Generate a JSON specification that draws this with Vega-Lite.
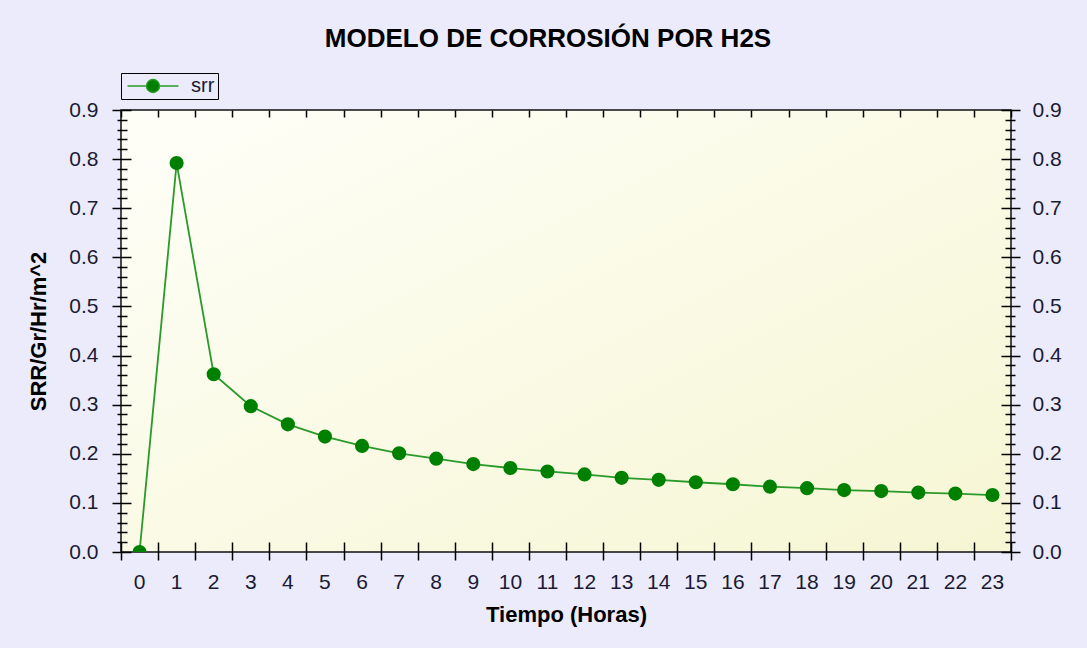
{
  "$schema": "https://vega.github.io/schema/vega-lite/v6.json",
  "width": 890,
  "height": 442,
  "autosize": {"type": "none"},
  "padding": {"left": 121, "top": 110, "right": 76, "bottom": 96},
  "background": "#ebebfb",
  "title": {
    "text": "MODELO DE CORROSIÓN POR H2S",
    "font": "Liberation Sans",
    "fontSize": 26,
    "fontWeight": "bold",
    "color": "#000000",
    "anchor": "middle",
    "frame": "group",
    "baseline": "alphabetic",
    "offset": 0,
    "dx": -18
  },
  "data": {
    "values": [
      {"t": 0, "srr": 0},
      {"t": 1, "srr": 0.792},
      {"t": 2, "srr": 0.362},
      {"t": 3, "srr": 0.297},
      {"t": 4, "srr": 0.26},
      {"t": 5, "srr": 0.235},
      {"t": 6, "srr": 0.216},
      {"t": 7, "srr": 0.201},
      {"t": 8, "srr": 0.19},
      {"t": 9, "srr": 0.179},
      {"t": 10, "srr": 0.171},
      {"t": 11, "srr": 0.164},
      {"t": 12, "srr": 0.158},
      {"t": 13, "srr": 0.151},
      {"t": 14, "srr": 0.147},
      {"t": 15, "srr": 0.142},
      {"t": 16, "srr": 0.138},
      {"t": 17, "srr": 0.133},
      {"t": 18, "srr": 0.13},
      {"t": 19, "srr": 0.126},
      {"t": 20, "srr": 0.124},
      {"t": 21, "srr": 0.121},
      {"t": 22, "srr": 0.119},
      {"t": 23, "srr": 0.116}
    ]
  },
  "config": {
    "view": {
      "fill": {"gradient": "linear", "x1": 0, "y1": 0, "x2": 1, "y2": 1,
        "stops": [{"offset": 0, "color": "#fefef8"}, {"offset": 1, "color": "#f6f6d4"}]},
      "stroke": "#111111",
      "strokeWidth": 1.5
    },
    "axis": {
      "labelFont": "Liberation Sans",
      "labelFontSize": 21,
      "labelColor": "#1a1a33",
      "titleFont": "Liberation Sans",
      "titleFontSize": 22,
      "titleFontWeight": "bold",
      "titleColor": "#000000",
      "grid": false,
      "tickColor": "#000000",
      "tickWidth": 1.5,
      "domainColor": "#000000"
    }
  },
  "resolve": {"axis": {"x": "independent", "y": "independent"}},
  "layer": [
    {
      "mark": {"type": "line", "color": "#2a9a2a", "strokeWidth": 1.8},
      "encoding": {
        "x": {"field": "t", "type": "ordinal", "sort": "ascending",
          "scale": {"type": "band", "paddingInner": 0, "paddingOuter": 0},
          "axis": {"orient": "bottom", "title": "Tiempo (Horas)", "ticks": false, "tickSize": 0, "domain": false, "labelAngle": 0, "labelPadding": 19, "titlePadding": 12}},
        "y": {"field": "srr", "type": "quantitative",
          "scale": {"domain": [0, 0.9], "nice": false},
          "axis": {"orient": "left", "title": "SRR/Gr/Hr/m^2", "ticks": false, "tickSize": 0, "domain": false,
            "values": [0, 0.1, 0.2, 0.3, 0.4, 0.5, 0.6, 0.7, 0.8, 0.9], "format": ".1f", "labelPadding": 23, "titlePadding": 18}}
      }
    },
    {
      "mark": {"type": "point", "filled": true, "size": 200, "opacity": 1, "clip": true},
      "encoding": {
        "x": {"field": "t", "type": "ordinal", "sort": "ascending",
          "scale": {"type": "band", "paddingInner": 0, "paddingOuter": 0},
          "axis": {"orient": "bottom", "title": null, "labels": false, "domain": false, "tickBand": "extent", "tickSize": 18, "offset": -10}},
        "y": {"field": "srr", "type": "quantitative",
          "scale": {"domain": [0, 0.9], "nice": false},
          "axis": {"orient": "left", "title": null, "labels": false, "domain": false,
            "values": [0, 0.1, 0.2, 0.3, 0.4, 0.5, 0.6, 0.7, 0.8, 0.9], "tickSize": 19, "offset": -10}},
        "color": {"datum": "srr", "type": "nominal",
          "scale": {"domain": ["srr"], "range": ["#008000"]},
          "legend": {
            "orient": "none", "legendX": 0, "legendY": -37, "title": null,
            "strokeColor": "#000000", "padding": 3,
            "symbolType": "M-2.83,0H-0.72M0.72,0H2.83M-0.72,0A0.72,0.72 0 1,0 0.72,0A0.72,0.72 0 1,0 -0.72,0",
            "symbolSize": 324, "symbolOffset": 19, "labelOffset": 28,
            "symbolStrokeColor": "#2a9a2a", "symbolStrokeWidth": 1.5,
            "labelFont": "Liberation Sans", "labelFontSize": 20, "labelColor": "#1a1a33",
            "encode": {"symbols": {"update": {
              "shape": {"value": "M-2.83,0H-0.72M0.72,0H2.83M-0.72,0A0.72,0.72 0 1,0 0.72,0A0.72,0.72 0 1,0 -0.72,0"},
              "size": {"value": 324},
              "fill": {"value": "#008000"}, "fillOpacity": {"value": 1},
              "stroke": {"value": "#2a9a2a"}, "strokeOpacity": {"value": 1}, "strokeWidth": {"value": 1.5}, "opacity": {"value": 1}}}}
          }}
      }
    },
    {
      "mark": {"type": "point", "opacity": 0},
      "encoding": {
        "x": {"field": "t", "type": "ordinal", "sort": "ascending",
          "scale": {"type": "band", "paddingInner": 0, "paddingOuter": 0},
          "axis": {"orient": "top", "title": null, "labels": false, "domain": false, "tickBand": "extent", "tickSize": -7}},
        "y": {"field": "srr", "type": "quantitative",
          "scale": {"domain": [0, 0.9], "nice": false},
          "axis": {"orient": "left", "title": null, "labels": false, "domain": false,
            "values": [0.02, 0.04, 0.06, 0.08, 0.12, 0.14, 0.16, 0.18, 0.22, 0.24, 0.26, 0.28, 0.32, 0.34, 0.36, 0.38, 0.42, 0.44, 0.46, 0.48, 0.52, 0.54, 0.56, 0.58, 0.62, 0.64, 0.66, 0.68, 0.72, 0.74, 0.76, 0.78, 0.82, 0.84, 0.86, 0.88],
            "tickSize": 10, "offset": -6}}
      }
    },
    {
      "mark": {"type": "point", "opacity": 0},
      "encoding": {
        "x": {"field": "t", "type": "ordinal", "sort": "ascending", "axis": null,
          "scale": {"type": "band", "paddingInner": 0, "paddingOuter": 0}},
        "y": {"field": "srr", "type": "quantitative",
          "scale": {"domain": [0, 0.9], "nice": false},
          "axis": {"orient": "right", "title": null, "ticks": false, "tickSize": 0, "domain": false,
            "values": [0, 0.1, 0.2, 0.3, 0.4, 0.5, 0.6, 0.7, 0.8, 0.9], "format": ".1f", "labelPadding": 21}}
      }
    },
    {
      "mark": {"type": "point", "opacity": 0},
      "encoding": {
        "x": {"field": "t", "type": "ordinal", "sort": "ascending", "axis": null,
          "scale": {"type": "band", "paddingInner": 0, "paddingOuter": 0}},
        "y": {"field": "srr", "type": "quantitative",
          "scale": {"domain": [0, 0.9], "nice": false},
          "axis": {"orient": "right", "title": null, "labels": false, "domain": false,
            "values": [0, 0.1, 0.2, 0.3, 0.4, 0.5, 0.6, 0.7, 0.8, 0.9], "tickSize": 19, "offset": -10}}
      }
    },
    {
      "mark": {"type": "point", "opacity": 0},
      "encoding": {
        "x": {"field": "t", "type": "ordinal", "sort": "ascending", "axis": null,
          "scale": {"type": "band", "paddingInner": 0, "paddingOuter": 0}},
        "y": {"field": "srr", "type": "quantitative",
          "scale": {"domain": [0, 0.9], "nice": false},
          "axis": {"orient": "right", "title": null, "labels": false, "domain": false,
            "values": [0.02, 0.04, 0.06, 0.08, 0.12, 0.14, 0.16, 0.18, 0.22, 0.24, 0.26, 0.28, 0.32, 0.34, 0.36, 0.38, 0.42, 0.44, 0.46, 0.48, 0.52, 0.54, 0.56, 0.58, 0.62, 0.64, 0.66, 0.68, 0.72, 0.74, 0.76, 0.78, 0.82, 0.84, 0.86, 0.88],
            "tickSize": 10, "offset": -6}}
      }
    }
  ]
}
